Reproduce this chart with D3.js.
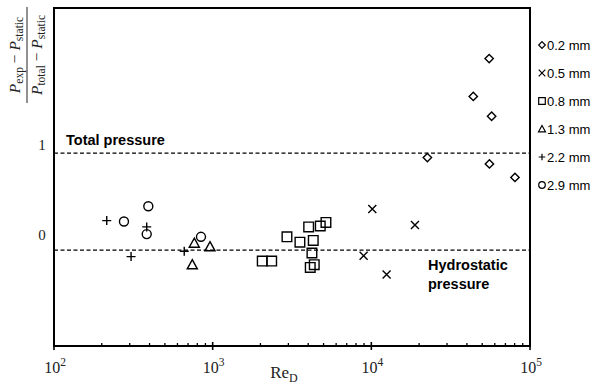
<!DOCTYPE html>
<html>
<head>
<meta charset="utf-8">
<script src="https://d3js.org/d3.v7.min.js"></script>
<style>
body { margin: 0; background: white; }
svg { font-family: "Liberation Sans", Arial, sans-serif; }
.serif { font-family: "Liberation Serif", "DejaVu Serif", serif; }
</style>
</head>
<body>
<div id="chart"></div>
<script>
var WIDTH = 596, HEIGHT = 387;

// data: Re_D and normalised pressure per probe size
var d02Re = [22550, 55300, 43900, 57300, 55500, 80400];
var d02Val = [0.86, 1.96, 1.54, 1.32, 0.79, 0.64];
var d05Re = [10140, 8940, 12480, 18830];
var d05Val = [0.29, -0.23, -0.44, 0.11];
var d08Re = [2053, 2355, 2939, 3548, 4027, 4305, 4766, 5176, 4223, 4368, 4121];
var d08Val = [-0.29, -0.29, -0.02, -0.08, 0.09, -0.06, 0.10, 0.14, -0.20, -0.33, -0.36];
var d13Re = [766, 962, 744];
var d13Val = [-0.09, -0.13, -0.33];
var d22Re = [215, 384, 306, 662];
var d22Val = [0.16, 0.09, -0.24, -0.18];
var d29Re = [276, 393, 384, 844];
var d29Val = [0.15, 0.32, 0.01, -0.02];

var seriesNames = ["0.2 mm", "0.5 mm", "0.8 mm", "1.3 mm", "2.2 mm", "2.9 mm"];
var seriesShapes = ["diamond", "times", "square", "triangle", "plus", "circle"];
var seriesRe = [d02Re, d05Re, d08Re, d13Re, d22Re, d29Re];
var seriesVal = [d02Val, d05Val, d08Val, d13Val, d22Val, d29Val];

var totalLevel = 0.91;
var hydroLevel = -0.167;
var xTicks = [100, 1000, 10000, 100000];
var xTickExp = ["2", "3", "4", "5"];
var yTicks = [0, 1];

var pLeft = 54, pRight = 530, pTop = 8, pBottom = 346;

var x = d3.scaleLog().domain([100, 100000]).range([pLeft, pRight]);
var y = d3.scaleLinear().domain([-1.233, 2.522]).range([pBottom, pTop]);

var svg = d3.select("#chart").append("svg")
  .attr("width", WIDTH)
  .attr("height", HEIGHT);

// marker shapes, s = half size
function shape(name, s) {
  if (name == "diamond") return "M0," + (-s) + "L" + s + ",0L0," + s + "L" + (-s) + ",0Z";
  if (name == "times") return "M" + (-s) + "," + (-s) + "L" + s + "," + s + "M" + (-s) + "," + s + "L" + s + "," + (-s);
  if (name == "square") return "M" + (-s) + "," + (-s) + "h" + (2 * s) + "v" + (2 * s) + "h" + (-2 * s) + "Z";
  if (name == "triangle") return "M0," + (-s * 1.05) + "L" + (s * 1.05) + "," + (s * 0.85) + "L" + (-s * 1.05) + "," + (s * 0.85) + "Z";
  if (name == "plus") return "M" + (-s) + ",0H" + s + "M0," + (-s) + "V" + s;
  // circle
  return "M" + s + ",0A" + s + "," + s + " 0 1,1 " + (-s) + ",0A" + s + "," + s + " 0 1,1 " + s + ",0Z";
}
var markSize = {diamond: 4.2, times: 4, square: 4.8, triangle: 4.8, plus: 4.5, circle: 4.5};

// dashed reference lines
svg.selectAll("line.ref")
  .data([totalLevel, hydroLevel])
  .enter().append("line")
    .attr("x1", pLeft).attr("x2", pRight)
    .attr("y1", function(d) { return y(d); })
    .attr("y2", function(d) { return y(d); })
    .attr("stroke", "black")
    .attr("stroke-width", 1.3)
    .attr("stroke-dasharray", "4,2.5");

svg.append("text")
  .attr("x", 66).attr("y", y(totalLevel) - 8)
  .attr("font-size", 14.5).attr("font-weight", "bold")
  .text("Total pressure");
svg.append("text")
  .attr("x", 428).attr("y", 270)
  .attr("font-size", 14.5).attr("font-weight", "bold")
  .text("Hydrostatic");
svg.append("text")
  .attr("x", 428).attr("y", 289)
  .attr("font-size", 14.5).attr("font-weight", "bold")
  .text("pressure");

// points
seriesRe.forEach(function(res, i) {
  var pts = res.map(function(r, j) { return [r, seriesVal[i][j]]; });
  svg.append("g").selectAll("path")
    .data(pts)
    .enter().append("path")
      .attr("transform", function(d) { return "translate(" + x(d[0]) + "," + y(d[1]) + ")"; })
      .attr("d", shape(seriesShapes[i], markSize[seriesShapes[i]]))
      .attr("fill", "none")
      .attr("stroke", "black")
      .attr("stroke-width", 1.4);
});

// frame
svg.append("rect")
  .attr("x", pLeft).attr("y", pTop)
  .attr("width", pRight - pLeft).attr("height", pBottom - pTop)
  .attr("fill", "none").attr("stroke", "black").attr("stroke-width", 2);

// x ticks (log decades + minor)
var minor = [];
for (var e = 100; e < 100000; e *= 10) {
  for (var k = 2; k < 10; k++) minor.push(e * k);
}
svg.append("g").selectAll("line")
  .data(minor)
  .enter().append("line")
    .attr("x1", function(d) { return x(d); }).attr("x2", function(d) { return x(d); })
    .attr("y1", pBottom - 3).attr("y2", pBottom)
    .attr("stroke", "black").attr("stroke-width", 1.3);
svg.append("g").selectAll("line")
  .data(xTicks)
  .enter().append("line")
    .attr("x1", function(d) { return x(d); }).attr("x2", function(d) { return x(d); })
    .attr("y1", pBottom - 4).attr("y2", pBottom + 4)
    .attr("stroke", "black").attr("stroke-width", 1.6);

var xl = svg.append("g").attr("class", "serif").attr("fill", "#222").selectAll("text")
  .data(xTicks)
  .enter().append("text")
    .attr("x", function(d) { return x(d) + 1; })
    .attr("y", 373)
    .attr("text-anchor", "middle")
    .attr("font-size", 16);
xl.append("tspan").text("10");
xl.append("tspan")
  .attr("dy", -7).attr("font-size", 11.5)
  .text(function(d, i) { return xTickExp[i]; });

var xt = svg.append("text").attr("class", "serif").attr("fill", "#222")
  .attr("x", 284).attr("y", 378)
  .attr("text-anchor", "middle").attr("font-size", 17);
xt.append("tspan").text("Re");
xt.append("tspan").attr("dy", 3.5).attr("font-size", 12).text("D");

// y tick labels
svg.append("g").attr("class", "serif").attr("fill", "#222").selectAll("text")
  .data(yTicks)
  .enter().append("text")
    .attr("x", 42).attr("y", function(d) { return y(d) + 5; })
    .attr("text-anchor", "middle").attr("font-size", 15)
    .text(function(d) { return d; });

// y title: rotated fraction
var yt = svg.append("g").attr("class", "serif").attr("fill", "#222")
  .attr("transform", "translate(0,55) rotate(-90)");
var num = yt.append("text").attr("x", 0).attr("y", 20)
  .attr("text-anchor", "middle").attr("font-size", 15.5);
num.append("tspan").attr("font-style", "italic").text("P");
num.append("tspan").attr("dy", 3).attr("font-size", 11.5).text("exp");
num.append("tspan").attr("dy", -3).text(" − ");
num.append("tspan").attr("font-style", "italic").text("P");
num.append("tspan").attr("dy", 3).attr("font-size", 11.5).text("static");
yt.append("line")
  .attr("x1", -48).attr("x2", 48).attr("y1", 27).attr("y2", 27)
  .attr("stroke", "#222").attr("stroke-width", 1);
var den = yt.append("text").attr("x", 0).attr("y", 42)
  .attr("text-anchor", "middle").attr("font-size", 15.5);
den.append("tspan").attr("font-style", "italic").text("P");
den.append("tspan").attr("dy", 3).attr("font-size", 11.5).text("total");
den.append("tspan").attr("dy", -3).text(" − ");
den.append("tspan").attr("font-style", "italic").text("P");
den.append("tspan").attr("dy", 3).attr("font-size", 11.5).text("static");

// legend
var leg = svg.append("g").selectAll("g")
  .data(seriesNames)
  .enter().append("g")
    .attr("transform", function(d, i) { return "translate(542," + (45 + i * 28) + ")"; });
leg.append("path")
  .attr("d", function(d, i) { return shape(seriesShapes[i], 3.3); })
  .attr("fill", "none").attr("stroke", "black").attr("stroke-width", 1.2);
leg.append("text")
  .attr("x", 5).attr("y", 4.5)
  .attr("font-size", 13)
  .text(function(d) { return d; });
</script>
</body>
</html>
